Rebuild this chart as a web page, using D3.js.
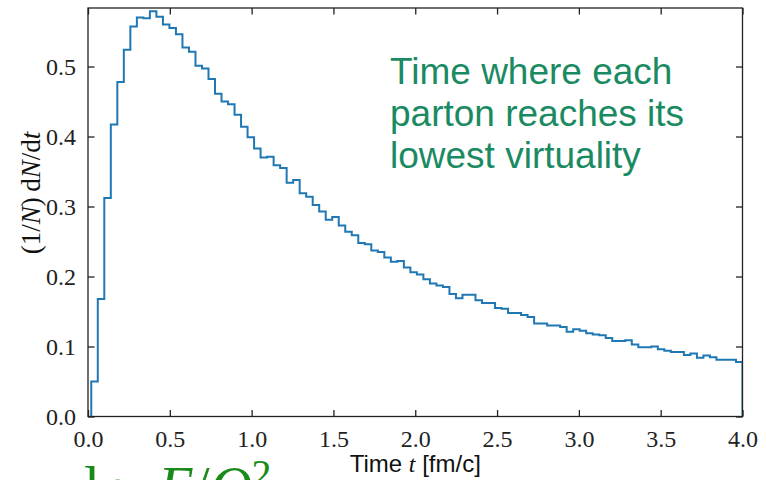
<!DOCTYPE html>
<html>
<head>
<meta charset="utf-8">
<script src="https://cdn.jsdelivr.net/npm/d3@7"></script>
<style>
  body { margin: 0; background: #fff; }
  svg { display: block; }
</style>
</head>
<body>
<div id="chart"></div>
<script>
// Histogram of the time where each parton reaches its lowest virtuality
const tMin = 0.02;
const binWidth = 0.0398;
const density = [
  0.050, 0.168, 0.312, 0.417, 0.478, 0.524, 0.557, 0.570, 0.569, 0.579,
  0.571, 0.560, 0.555, 0.546, 0.527, 0.521, 0.501, 0.497, 0.482, 0.461,
  0.450, 0.446, 0.431, 0.414, 0.399, 0.383, 0.370, 0.371, 0.359, 0.355,
  0.334, 0.338, 0.319, 0.314, 0.302, 0.293, 0.281, 0.285, 0.273, 0.264,
  0.259, 0.248, 0.246, 0.237, 0.235, 0.227, 0.221, 0.222, 0.213, 0.206,
  0.203, 0.196, 0.190, 0.187, 0.185, 0.175, 0.169, 0.174, 0.174, 0.166,
  0.162, 0.162, 0.155, 0.154, 0.148, 0.148, 0.145, 0.142, 0.133, 0.133,
  0.130, 0.130, 0.128, 0.121, 0.1245, 0.1226, 0.119, 0.117, 0.116, 0.112,
  0.108, 0.108, 0.109, 0.103, 0.099, 0.099, 0.100, 0.096, 0.094, 0.092,
  0.092, 0.088, 0.090, 0.084, 0.087, 0.0845, 0.081, 0.081, 0.081, 0.078
];
const xTicks = [0, 0.5, 1.0, 1.5, 2.0, 2.5, 3.0, 3.5, 4.0];
const yTicks = [0, 0.1, 0.2, 0.3, 0.4, 0.5];
const noteLines = ["Time where each", "parton reaches its", "lowest virtuality"];

const width = 767, height = 480;
const margin = { top: 8, right: 24.5, bottom: 63.5, left: 88 };
const iw = width - margin.left - margin.right;
const ih = height - margin.top - margin.bottom;

const svg = d3.select("#chart").append("svg")
    .attr("width", width)
    .attr("height", height);

const x = d3.scaleLinear().domain([0, 4.0]).range([0, iw]);
const y = d3.scaleLinear().domain([0, 0.5836]).range([ih, 0]);

const g = svg.append("g")
    .attr("transform", `translate(${margin.left},${margin.top})`);

g.append("clipPath").attr("id", "plot-clip")
  .append("rect").attr("width", iw).attr("height", ih);

// step outline
const edges = density.map((d, i) => tMin + i * binWidth);
const pts = [[edges[0], 0]]
    .concat(density.map((d, i) => [edges[i], d]))
    .concat([[tMin + density.length * binWidth, 0]]);

const line = d3.line()
    .x(d => x(d[0]))
    .y(d => y(d[1]))
    .curve(d3.curveStepAfter);

g.append("path")
    .datum(pts)
    .attr("clip-path", "url(#plot-clip)")
    .attr("fill", "none")
    .attr("stroke", "#1f77b4")
    .attr("stroke-width", 2)
    .attr("d", line);

// axes with inward ticks on all sides
const tickFont = "'Liberation Serif', 'DejaVu Serif', serif";
const styleAxis = sel => {
    sel.select(".domain").remove();
    sel.selectAll(".tick line").attr("stroke", "#222").attr("stroke-width", 1.3);
    sel.selectAll(".tick text").attr("fill", "#222")
        .style("font-family", tickFont).style("font-size", "24px");
};

g.append("g").attr("transform", `translate(0,${ih})`)
    .call(d3.axisBottom(x).tickValues(xTicks).tickFormat(d3.format(".1f"))
        .tickSizeInner(-6.5).tickPadding(13))
    .call(styleAxis);
g.append("g")
    .call(d3.axisTop(x).tickValues(xTicks).tickFormat("").tickSizeInner(-6.5))
    .call(styleAxis);
g.append("g")
    .call(d3.axisLeft(y).tickValues(yTicks).tickFormat(d3.format(".1f"))
        .tickSizeInner(-6.5).tickPadding(12))
    .call(styleAxis);
g.append("g").attr("transform", `translate(${iw},0)`)
    .call(d3.axisRight(y).tickValues(yTicks).tickFormat("").tickSizeInner(-6.5))
    .call(styleAxis);

g.append("rect")
    .attr("width", iw).attr("height", ih)
    .attr("fill", "none").attr("stroke", "#222").attr("stroke-width", 1.3);

// axis labels
const xl = svg.append("text")
    .attr("x", margin.left + iw / 2)
    .attr("y", 471.5)
    .attr("text-anchor", "middle")
    .attr("fill", "#111")
    .style("font-family", "'Liberation Sans', Arial, sans-serif")
    .style("font-size", "24px");
xl.append("tspan").text("Time ");
xl.append("tspan").style("font-family", tickFont).style("font-style", "italic").text("t");
xl.append("tspan").text(" [fm/c]");

const yl = svg.append("text")
    .attr("transform", "translate(40,193) rotate(-90)")
    .attr("text-anchor", "middle")
    .attr("fill", "#111")
    .style("font-family", tickFont)
    .style("font-size", "27px");
yl.append("tspan").text("(1/");
yl.append("tspan").style("font-style", "italic").text("N");
yl.append("tspan").text(")\u2009d");
yl.append("tspan").style("font-style", "italic").text("N");
yl.append("tspan").text("/d");
yl.append("tspan").style("font-style", "italic").text("t");

// annotation
svg.append("text")
    .attr("x", 390)
    .attr("fill", "#1a8a62")
    .style("font-family", "'Liberation Sans', Arial, sans-serif")
    .style("font-size", "37px")
    .selectAll("tspan")
    .data(noteLines)
    .join("tspan")
    .attr("x", 390)
    .attr("y", (d, i) => 84 + i * 42)
    .text(d => d);

// large label cut off at the bottom edge
const cut = svg.append("text")
    .attr("x", 84)
    .attr("y", 506)
    .attr("fill", "#1a8a1a")
    .style("font-family", tickFont)
    .style("font-size", "58px");
cut.append("tspan").text("ln\u2002");
cut.append("tspan").style("font-style", "italic").text("E");
cut.append("tspan").text("/");
cut.append("tspan").style("font-style", "italic").text("Q");
cut.append("tspan").attr("dy", -19).style("font-size", "40px").text("2");
</script>
</body>
</html>
